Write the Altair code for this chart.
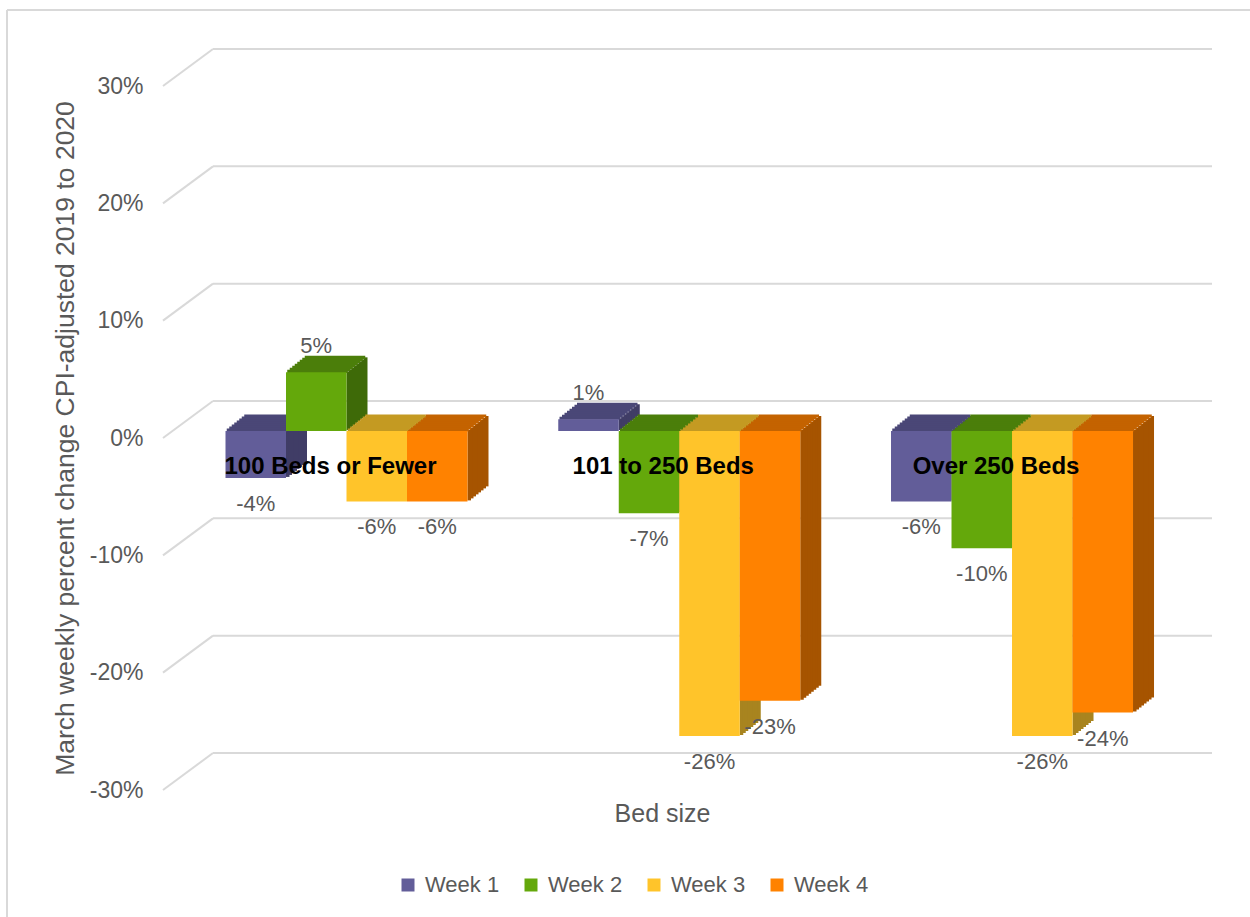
import altair as alt
import pandas as pd

# ---------------- data ----------------
groups = ["100 Beds or Fewer", "101 to 250 Beds", "Over 250 Beds"]
weeks = ["Week 1", "Week 2", "Week 3", "Week 4"]
week1 = [-4, 1, -6]
week2 = [5, -7, -10]
week3 = [-6, -26, -26]
week4 = [-6, -23, -24]
ticks = [-30, -20, -10, 0, 10, 20, 30]
y_title = "March weekly percent change CPI-adjusted 2019 to 2020"
x_title = "Bed size"

# ---------------- styles ----------------
front_colors = ["#625D99", "#64A80B", "#FFC42A", "#FF8200"]
top_colors = ["#4A4777", "#4B7E0A", "#C49A22", "#C46300"]
side_colors = ["#403D66", "#3E6A08", "#A8841F", "#A65400"]
grid_color = "#D9D9D9"
text_color = "#595959"
FONT = "Liberation Sans"

series = [week1, week2, week3, week4]
rows = []
for gi, g in enumerate(groups):
    for wi, w in enumerate(weeks):
        rows.append({"group": g, "gi": gi, "week": w, "wi": wi, "value": series[wi][gi]})
df = pd.DataFrame(rows)

W, H = 999, 704
xscale = alt.Scale(domain=[-0.752, 15.76], nice=False, zero=False)
yscale = alt.Scale(domain=[-30, 30], nice=False, zero=False)

x_axis = alt.Axis(
    title=x_title, labels=False, ticks=False, domain=False, grid=False,
    titleX=482, titleY=23, titleAlign="center", titleBaseline="middle",
    titleFontSize=25, titleColor=text_color, titleFontWeight="normal", titleFont=FONT)
y_axis = alt.Axis(
    values=ticks, labelExpr="datum.value + '%'", ticks=False, domain=False, grid=False,
    labelPadding=37, labelFontSize=23, labelColor=text_color, labelFont=FONT,
    title=y_title, titleFontSize=26.5, titleColor=text_color, titleFontWeight="normal", titleFont=FONT,
    titleX=-115, titleY=352, titleAngle=270, titleAlign="center", titleBaseline="middle")


def X(field):
    return alt.X(field, scale=xscale, axis=x_axis)


def Y(field):
    return alt.Y(field, scale=yscale, axis=y_axis)


base = alt.Chart(df).transform_calculate(
    xs="datum.gi * 5.5 + datum.wi",
    xe="datum.gi * 5.5 + datum.wi + 1",
    cx="datum.gi * 5.5 + datum.wi + 0.5",
    top="max(datum.value, 0)",
    label="datum.value + '%'",
)

DX, DY, LIFT = 20, 16, -7  # depth of the 3-D effect
N = 8
layers = []

# frame and gridlines (back wall + slanted floor lines)
frame_df = pd.DataFrame({"k": [0]})
frame_left = alt.Chart(frame_df).mark_rule(color=grid_color, strokeWidth=2).encode(
    x=alt.value(-173), y=alt.value(-76), y2=alt.value(831)
)
frame_top = alt.Chart(frame_df).mark_rule(color=grid_color, strokeWidth=2).encode(
    x=alt.value(-173), x2=alt.value(1070), y=alt.value(-76)
)
grid_df = pd.DataFrame({"tick": ticks})
back_grid = alt.Chart(grid_df).mark_rule(color=grid_color, strokeWidth=2, yOffset=-37).encode(
    x=alt.value(33), x2=alt.value(1032), y=Y("tick:Q")
)
slant_grid = alt.Chart(grid_df).mark_rule(color=grid_color, strokeWidth=2, y2Offset=-37).encode(
    x=alt.value(-17), x2=alt.value(33), y=Y("tick:Q"), y2="tick:Q"
)
layers += [frame_left, frame_top, back_grid, slant_grid]

# side faces (sheared by slicing)
for k in range(N):
    d_mid = (k + 0.5) / N
    layers.append(
        base.mark_rect(
            xOffset=DX * k / N, x2Offset=DX * (k + 1) / N + 1,
            yOffset=LIFT - DY * d_mid, y2Offset=LIFT - DY * d_mid,
        ).encode(
            x=X("xe:Q"), x2="xe:Q",
            y=Y("value:Q"), y2=alt.datum(0),
            color=alt.Color("week:N", scale=alt.Scale(domain=weeks, range=side_colors), legend=None),
        )
    )
# top faces (sheared by slicing)
for k in range(N):
    d_mid = (k + 0.5) / N
    layers.append(
        base.mark_rect(
            xOffset=DX * d_mid, x2Offset=DX * d_mid,
            yOffset=LIFT - DY * (k + 1) / N - 0.6, y2Offset=LIFT - DY * k / N + 0.6,
        ).encode(
            x=X("xs:Q"), x2="xe:Q",
            y=Y("top:Q"), y2="top:Q",
            color=alt.Color("week:N", scale=alt.Scale(domain=weeks, range=top_colors), legend=None),
        )
    )

# front faces (with legend)
front = base.mark_rect(yOffset=LIFT, y2Offset=LIFT).encode(
    x=X("xs:Q"), x2="xe:Q",
    y=Y("value:Q"), y2=alt.datum(0),
    color=alt.Color("week:N", scale=alt.Scale(domain=weeks, range=front_colors), legend=alt.Legend(
        orient="none", legendX=217, legendY=788, direction="horizontal", title=None,
        symbolType="square", symbolSize=169, symbolStrokeWidth=0, labelFontSize=22,
        labelColor=text_color, labelFont=FONT, labelOffset=6, columnPadding=20)),
)
layers.append(front)

# category labels
cat_df = pd.DataFrame({"group": groups, "gi": list(range(len(groups)))})
cat_labels = alt.Chart(cat_df).transform_calculate(cx="datum.gi * 5.5 + 2").mark_text(
    fontWeight="bold", fontSize=24, color="black", dx=-16, align="center", baseline="middle", font=FONT
).encode(x=X("cx:Q"), y=alt.value(381), text="group:N")

# value labels
neg_labels = base.transform_filter("datum.value < 0").mark_text(
    fontSize=22, color=text_color, dy=26 + LIFT, baseline="middle", align="center", font=FONT
).encode(x=X("cx:Q"), y=Y("value:Q"), text="label:N")
pos_labels = base.transform_filter("datum.value >= 0").mark_text(
    fontSize=22, color=text_color, dy=-26 + LIFT, baseline="middle", align="center", font=FONT
).encode(x=X("cx:Q"), y=Y("value:Q"), text="label:N")

layers += [cat_labels, neg_labels, pos_labels]

chart = alt.layer(*layers).resolve_scale(color="independent").properties(
    width=W, height=H,
    autosize=alt.AutoSizeParams(type="none"),
    padding={"left": 180, "top": 86, "right": 71, "bottom": 127},
    background="white",
).configure(font=FONT).configure_view(stroke=None)

chart.save("out.html", embed_options={"renderer": "svg", "actions": False})
